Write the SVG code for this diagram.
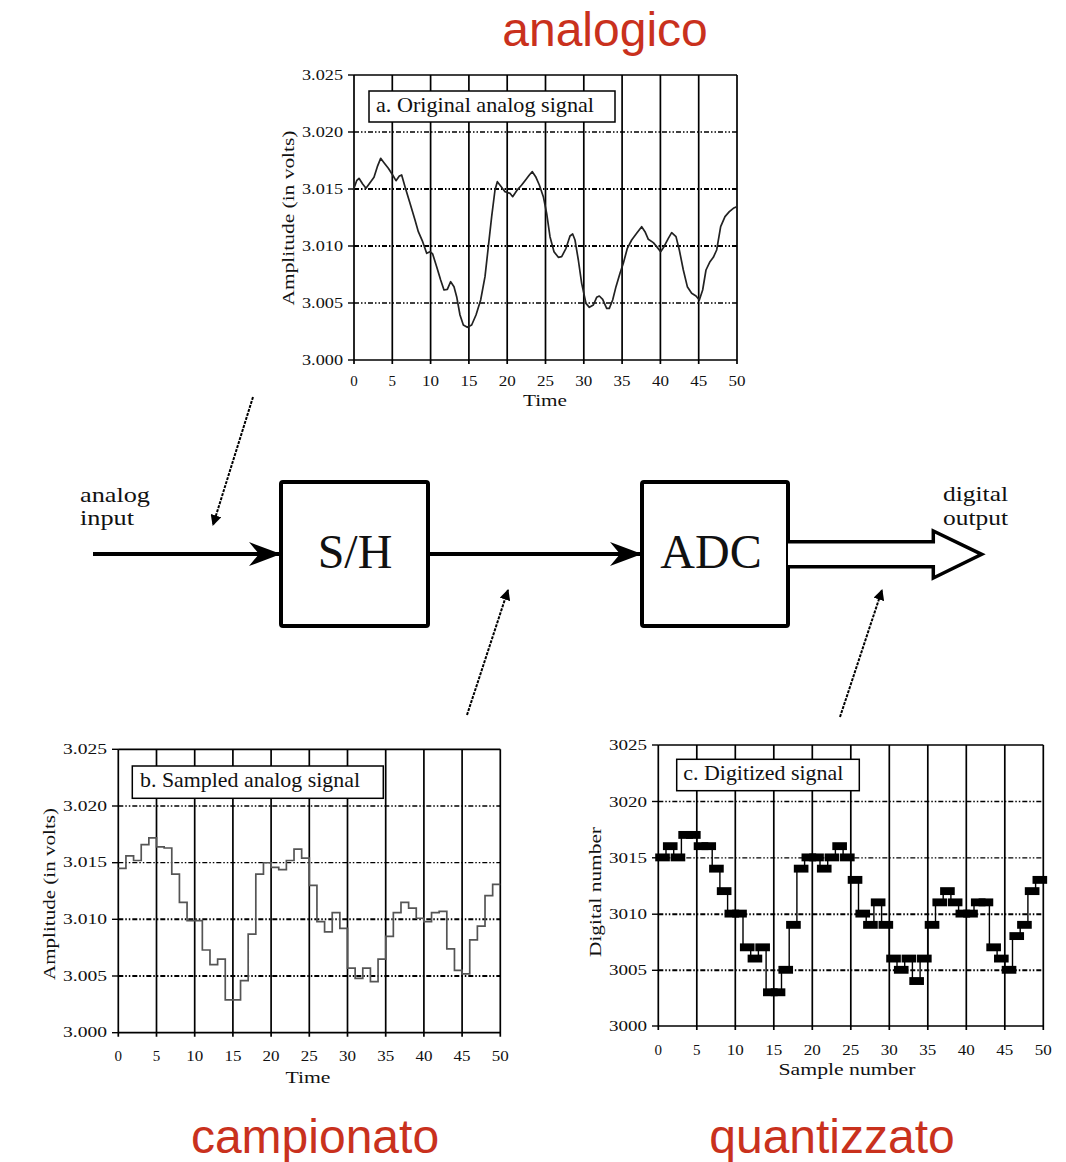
<svg xmlns="http://www.w3.org/2000/svg" width="1066" height="1162" viewBox="0 0 1066 1162">
<defs>
<style>
.vg{stroke:#000;stroke-width:1.7;fill:none}
.hg{stroke:#000;stroke-width:1.3;stroke-dasharray:5 2 1.5 2 1.5 2;fill:none}
.hgb{stroke:#000;stroke-width:2;stroke-dasharray:5 2 1.5 2 1.5 2;fill:none}
.tk{stroke:#000;stroke-width:1.4}
.yl{font-family:"Liberation Serif",serif;font-size:14px;fill:#111;text-anchor:end}
.xl{font-family:"Liberation Serif",serif;font-size:15px;fill:#111;text-anchor:middle}
.at{font-family:"Liberation Serif",serif;font-size:17px;fill:#111;text-anchor:middle}
.lg{font-family:"Liberation Serif",serif;font-size:21px;fill:#111}
.lgbox{fill:#fff;stroke:#000;stroke-width:1.5}
.red{font-family:"Liberation Sans",Arial,sans-serif;font-size:48px;fill:#c9311d;text-anchor:middle}
.bl{font-family:"Liberation Serif",serif;font-size:21px;fill:#111}
.bt{font-family:"Liberation Serif",serif;font-size:48px;fill:#111;text-anchor:middle}
.box{fill:#fff;stroke:#000;stroke-width:4}
.wire{stroke:#000;stroke-width:4;fill:none}
.dot{stroke:#000;stroke-width:2;stroke-dasharray:3 1.2;fill:none}
</style>
<marker id="barb" viewBox="0 0 32 24" refX="31" refY="12" markerWidth="32" markerHeight="24" markerUnits="userSpaceOnUse" orient="auto">
<path d="M0,0 L32,12 L0,24 L10,12 Z" fill="#000"/>
</marker>
<marker id="tri" viewBox="0 0 10 10" refX="9" refY="5" markerWidth="11" markerHeight="11" markerUnits="userSpaceOnUse" orient="auto">
<path d="M0,0 L10,5 L0,10 Z" fill="#000"/>
</marker>
</defs>
<rect width="1066" height="1162" fill="#fff"/>

<!-- red titles -->
<text class="red" x="605" y="46">analogico</text>
<text class="red" x="315" y="1153">campionato</text>
<text class="red" x="832" y="1153">quantizzato</text>

<!-- Chart a -->
<g id="chart-a">
<g class="vg">
<line x1="354" y1="75" x2="737" y2="75"/>
<line x1="354" y1="360" x2="737" y2="360"/>
<line x1="354" y1="75" x2="354" y2="364"/>
<line x1="392.3" y1="75" x2="392.3" y2="364"/>
<line x1="430.6" y1="75" x2="430.6" y2="364"/>
<line x1="468.9" y1="75" x2="468.9" y2="364"/>
<line x1="507.2" y1="75" x2="507.2" y2="364"/>
<line x1="545.5" y1="75" x2="545.5" y2="364"/>
<line x1="583.8" y1="75" x2="583.8" y2="364"/>
<line x1="622.1" y1="75" x2="622.1" y2="364"/>
<line x1="660.4" y1="75" x2="660.4" y2="364"/>
<line x1="698.7" y1="75" x2="698.7" y2="364"/>
<line x1="737" y1="75" x2="737" y2="364"/>
</g>
<line class="hg" x1="354" y1="132" x2="737" y2="132"/>
<line class="hgb" x1="354" y1="189" x2="737" y2="189"/>
<line class="hgb" x1="354" y1="246" x2="737" y2="246"/>
<line class="hg" x1="354" y1="303" x2="737" y2="303"/>
<g class="tk">
<line x1="348" y1="75" x2="354" y2="75"/><line x1="348" y1="132" x2="354" y2="132"/><line x1="348" y1="189" x2="354" y2="189"/><line x1="348" y1="246" x2="354" y2="246"/><line x1="348" y1="303" x2="354" y2="303"/><line x1="348" y1="360" x2="354" y2="360"/>
</g>
<rect class="lgbox" x="369" y="91" width="246" height="31"/>
<text class="lg" x="376" y="112" textLength="218" lengthAdjust="spacingAndGlyphs">a. Original analog signal</text>
<polyline transform="translate(290,60) scale(0.33333)" fill="none" stroke="#222" stroke-width="1.7" vector-effect="non-scaling-stroke" stroke-linejoin="round" points="190,390 200,362 207,355 218,372 228,385 240,368 252,352 262,320 272,295 282,308 295,325 308,345 318,362 328,348 335,345 345,380 360,430 375,480 385,515 398,545 410,580 420,575 428,582 440,620 452,660 462,690 472,688 482,665 492,680 500,710 510,765 520,795 532,802 545,795 558,765 572,720 585,650 595,560 605,470 615,390 622,365 632,378 645,395 660,400 668,410 680,392 695,375 705,362 718,345 727,335 737,350 748,375 760,410 770,460 780,530 792,575 805,592 815,590 828,565 840,528 848,522 855,540 865,600 875,670 888,730 898,742 910,735 920,712 928,708 938,718 950,745 958,745 968,720 978,680 990,640 1000,610 1012,565 1025,540 1040,520 1055,500 1065,515 1075,538 1090,548 1100,560 1112,575 1122,560 1135,535 1145,518 1158,530 1168,570 1180,630 1192,680 1205,700 1218,708 1228,720 1238,690 1248,630 1260,605 1270,592 1280,570 1292,500 1305,470 1318,455 1330,445 1340,440"/>
<g>
<text class="yl" x="343" y="80" textLength="41" lengthAdjust="spacingAndGlyphs">3.025</text>
<text class="yl" x="343" y="137" textLength="41" lengthAdjust="spacingAndGlyphs">3.020</text>
<text class="yl" x="343" y="194" textLength="41" lengthAdjust="spacingAndGlyphs">3.015</text>
<text class="yl" x="343" y="251" textLength="41" lengthAdjust="spacingAndGlyphs">3.010</text>
<text class="yl" x="343" y="308" textLength="41" lengthAdjust="spacingAndGlyphs">3.005</text>
<text class="yl" x="343" y="365" textLength="41" lengthAdjust="spacingAndGlyphs">3.000</text>
</g>
<g>
<text class="xl" x="354" y="386">0</text>
<text class="xl" x="392.3" y="386">5</text>
<text class="xl" x="430.6" y="386" textLength="17" lengthAdjust="spacingAndGlyphs">10</text>
<text class="xl" x="468.9" y="386" textLength="17" lengthAdjust="spacingAndGlyphs">15</text>
<text class="xl" x="507.2" y="386" textLength="17" lengthAdjust="spacingAndGlyphs">20</text>
<text class="xl" x="545.5" y="386" textLength="17" lengthAdjust="spacingAndGlyphs">25</text>
<text class="xl" x="583.8" y="386" textLength="17" lengthAdjust="spacingAndGlyphs">30</text>
<text class="xl" x="622.1" y="386" textLength="17" lengthAdjust="spacingAndGlyphs">35</text>
<text class="xl" x="660.4" y="386" textLength="17" lengthAdjust="spacingAndGlyphs">40</text>
<text class="xl" x="698.7" y="386" textLength="17" lengthAdjust="spacingAndGlyphs">45</text>
<text class="xl" x="737" y="386" textLength="17" lengthAdjust="spacingAndGlyphs">50</text>
</g>
<text class="at" x="545" y="406" textLength="44" lengthAdjust="spacingAndGlyphs">Time</text>
<text class="at" transform="translate(294,218) rotate(-90)" x="0" y="0" font-size="16" fill="#333" textLength="175" lengthAdjust="spacingAndGlyphs">Amplitude (in volts)</text>
</g>

<!-- Chart b -->
<g id="chart-b">
<g class="vg">
<line x1="118.3" y1="749.3" x2="500.3" y2="749.3"/>
<line x1="118.3" y1="1032.7" x2="500.3" y2="1032.7"/>
<line x1="118.3" y1="749.3" x2="118.3" y2="1036.7"/>
<line x1="156.5" y1="749.3" x2="156.5" y2="1036.7"/>
<line x1="194.7" y1="749.3" x2="194.7" y2="1036.7"/>
<line x1="232.9" y1="749.3" x2="232.9" y2="1036.7"/>
<line x1="271.1" y1="749.3" x2="271.1" y2="1036.7"/>
<line x1="309.3" y1="749.3" x2="309.3" y2="1036.7"/>
<line x1="347.5" y1="749.3" x2="347.5" y2="1036.7"/>
<line x1="385.7" y1="749.3" x2="385.7" y2="1036.7"/>
<line x1="423.9" y1="749.3" x2="423.9" y2="1036.7"/>
<line x1="462.1" y1="749.3" x2="462.1" y2="1036.7"/>
<line x1="500.3" y1="749.3" x2="500.3" y2="1036.7"/>
</g>
<line class="hg" x1="118.3" y1="806" x2="500.3" y2="806"/>
<line class="hg" x1="118.3" y1="862.7" x2="500.3" y2="862.7"/>
<line class="hgb" x1="118.3" y1="919.3" x2="500.3" y2="919.3"/>
<line class="hgb" x1="118.3" y1="976" x2="500.3" y2="976"/>
<g class="tk">
<line x1="112" y1="749.3" x2="118.3" y2="749.3"/><line x1="112" y1="806" x2="118.3" y2="806"/><line x1="112" y1="862.7" x2="118.3" y2="862.7"/><line x1="112" y1="919.3" x2="118.3" y2="919.3"/><line x1="112" y1="976" x2="118.3" y2="976"/><line x1="112" y1="1032.7" x2="118.3" y2="1032.7"/>
</g>
<rect class="lgbox" x="132.3" y="766" width="251" height="32.3"/>
<text class="lg" x="140" y="787" textLength="220" lengthAdjust="spacingAndGlyphs">b. Sampled analog signal</text>
<polyline transform="translate(118.3,1032.7) scale(7.64,-11.33)" fill="none" stroke="#555" stroke-width="1.7" vector-effect="non-scaling-stroke" points="0,14.5 1,14.5 1,15.6 2,15.6 2,15.2 3,15.2 3,16.6 4,16.6 4,17.2 5,17.2 5,16.4 6,16.4 6,16.3 7,16.3 7,14.0 8,14.0 8,11.5 9,11.5 9,9.9 11,9.9 11,7.3 12,7.3 12,6.0 13,6.0 13,6.5 14,6.5 14,2.9 16,2.9 16,4.6 17,4.6 17,8.7 18,8.7 18,14.0 19,14.0 19,15.0 20,15.0 20,14.6 21,14.6 21,14.4 22,14.4 22,15.2 23,15.2 23,16.2 24,16.2 24,15.4 25,15.4 25,13.0 26,13.0 26,9.8 27,9.8 27,8.9 28,8.9 28,10.6 29,10.6 29,9.2 30,9.2 30,5.7 31,5.7 31,4.8 32,4.8 32,5.7 33,5.7 33,4.5 34,4.5 34,6.5 35,6.5 35,8.5 36,8.5 36,10.6 37,10.6 37,11.5 38,11.5 38,11.0 39,11.0 39,10.1 40,10.1 40,9.8 41,9.8 41,10.6 42,10.6 42,10.7 43,10.7 43,7.4 44,7.4 44,5.5 45,5.5 45,5.2 46,5.2 46,8.2 47,8.2 47,9.4 48,9.4 48,12.1 49,12.1 49,13.1 50,13.1"/>
<g>
<text class="yl" x="107" y="754" textLength="44" lengthAdjust="spacingAndGlyphs">3.025</text>
<text class="yl" x="107" y="810.7" textLength="44" lengthAdjust="spacingAndGlyphs">3.020</text>
<text class="yl" x="107" y="867.4" textLength="44" lengthAdjust="spacingAndGlyphs">3.015</text>
<text class="yl" x="107" y="924" textLength="44" lengthAdjust="spacingAndGlyphs">3.010</text>
<text class="yl" x="107" y="980.7" textLength="44" lengthAdjust="spacingAndGlyphs">3.005</text>
<text class="yl" x="107" y="1037.4" textLength="44" lengthAdjust="spacingAndGlyphs">3.000</text>
</g>
<g>
<text class="xl" x="118.3" y="1061">0</text>
<text class="xl" x="156.5" y="1061">5</text>
<text class="xl" x="194.7" y="1061" textLength="17" lengthAdjust="spacingAndGlyphs">10</text>
<text class="xl" x="232.9" y="1061" textLength="17" lengthAdjust="spacingAndGlyphs">15</text>
<text class="xl" x="271.1" y="1061" textLength="17" lengthAdjust="spacingAndGlyphs">20</text>
<text class="xl" x="309.3" y="1061" textLength="17" lengthAdjust="spacingAndGlyphs">25</text>
<text class="xl" x="347.5" y="1061" textLength="17" lengthAdjust="spacingAndGlyphs">30</text>
<text class="xl" x="385.7" y="1061" textLength="17" lengthAdjust="spacingAndGlyphs">35</text>
<text class="xl" x="423.9" y="1061" textLength="17" lengthAdjust="spacingAndGlyphs">40</text>
<text class="xl" x="462.1" y="1061" textLength="17" lengthAdjust="spacingAndGlyphs">45</text>
<text class="xl" x="500.3" y="1061" textLength="17" lengthAdjust="spacingAndGlyphs">50</text>
</g>
<text class="at" x="308" y="1083" textLength="45" lengthAdjust="spacingAndGlyphs">Time</text>
<text class="at" transform="translate(55,894) rotate(-90)" x="0" y="0" font-size="16" textLength="172" lengthAdjust="spacingAndGlyphs">Amplitude (in volts)</text>
</g>

<!-- Chart c -->
<g id="chart-c">
<g class="vg">
<line x1="658.3" y1="745" x2="1043.3" y2="745"/>
<line x1="658.3" y1="1026" x2="1043.3" y2="1026"/>
<line x1="658.3" y1="745" x2="658.3" y2="1030"/>
<line x1="696.8" y1="745" x2="696.8" y2="1030"/>
<line x1="735.3" y1="745" x2="735.3" y2="1030"/>
<line x1="773.8" y1="745" x2="773.8" y2="1030"/>
<line x1="812.3" y1="745" x2="812.3" y2="1030"/>
<line x1="850.8" y1="745" x2="850.8" y2="1030"/>
<line x1="889.3" y1="745" x2="889.3" y2="1030"/>
<line x1="927.8" y1="745" x2="927.8" y2="1030"/>
<line x1="966.3" y1="745" x2="966.3" y2="1030"/>
<line x1="1004.8" y1="745" x2="1004.8" y2="1030"/>
<line x1="1043.3" y1="745" x2="1043.3" y2="1030"/>
</g>
<line class="hg" x1="658.3" y1="801.5" x2="1043.3" y2="801.5"/>
<line class="hg" x1="658.3" y1="857.8" x2="1043.3" y2="857.8"/>
<line class="hgb" x1="658.3" y1="914.2" x2="1043.3" y2="914.2"/>
<line class="hgb" x1="658.3" y1="970.3" x2="1043.3" y2="970.3"/>
<g class="tk">
<line x1="652" y1="745" x2="658.3" y2="745"/><line x1="652" y1="801.5" x2="658.3" y2="801.5"/><line x1="652" y1="857.8" x2="658.3" y2="857.8"/><line x1="652" y1="914.2" x2="658.3" y2="914.2"/><line x1="652" y1="970.3" x2="658.3" y2="970.3"/><line x1="652" y1="1026" x2="658.3" y2="1026"/>
</g>
<rect class="lgbox" x="676.7" y="759.3" width="182.6" height="31.4"/>
<text class="lg" x="683.3" y="780" textLength="160" lengthAdjust="spacingAndGlyphs">c. Digitized signal</text>
<g transform="translate(658.3,1026) scale(7.7,-11.24)">
<polyline fill="none" stroke="#000" stroke-width="1.4" vector-effect="non-scaling-stroke" points="0,15 1,15 1,16 2,16 2,15 3,15 3,17 5,17 5,16 7,16 7,14 8,14 8,12 9,12 9,10 11,10 11,7 12,7 12,6 13,6 13,7 14,7 14,3 16,3 16,5 17,5 17,9 18,9 18,14 19,14 19,15 21,15 21,14 22,14 22,15 23,15 23,16 24,16 24,15 25,15 25,13 26,13 26,10 27,10 27,9 28,9 28,11 29,11 29,9 30,9 30,6 31,6 31,5 32,5 32,6 33,6 33,4 34,4 34,6 35,6 35,9 36,9 36,11 37,11 37,12 38,12 38,11 39,11 39,10 41,10 41,11 43,11 43,7 44,7 44,6 45,6 45,5 46,5 46,8 47,8 47,9 48,9 48,12 49,12 49,13 50,13"/>
<g fill="#000">
<rect x="-0.4" y="14.65" width="1.9" height="0.7"/>
<rect x="0.6" y="15.65" width="1.9" height="0.7"/>
<rect x="1.6" y="14.65" width="1.9" height="0.7"/>
<rect x="2.6" y="16.65" width="1.9" height="0.7"/>
<rect x="3.6" y="16.65" width="1.9" height="0.7"/>
<rect x="4.6" y="15.65" width="1.9" height="0.7"/>
<rect x="5.6" y="15.65" width="1.9" height="0.7"/>
<rect x="6.6" y="13.65" width="1.9" height="0.7"/>
<rect x="7.6" y="11.65" width="1.9" height="0.7"/>
<rect x="8.6" y="9.65" width="1.9" height="0.7"/>
<rect x="9.6" y="9.65" width="1.9" height="0.7"/>
<rect x="10.6" y="6.65" width="1.9" height="0.7"/>
<rect x="11.6" y="5.65" width="1.9" height="0.7"/>
<rect x="12.6" y="6.65" width="1.9" height="0.7"/>
<rect x="13.6" y="2.65" width="1.9" height="0.7"/>
<rect x="14.6" y="2.65" width="1.9" height="0.7"/>
<rect x="15.6" y="4.65" width="1.9" height="0.7"/>
<rect x="16.6" y="8.65" width="1.9" height="0.7"/>
<rect x="17.6" y="13.65" width="1.9" height="0.7"/>
<rect x="18.6" y="14.65" width="1.9" height="0.7"/>
<rect x="19.6" y="14.65" width="1.9" height="0.7"/>
<rect x="20.6" y="13.65" width="1.9" height="0.7"/>
<rect x="21.6" y="14.65" width="1.9" height="0.7"/>
<rect x="22.6" y="15.65" width="1.9" height="0.7"/>
<rect x="23.6" y="14.65" width="1.9" height="0.7"/>
<rect x="24.6" y="12.65" width="1.9" height="0.7"/>
<rect x="25.6" y="9.65" width="1.9" height="0.7"/>
<rect x="26.6" y="8.65" width="1.9" height="0.7"/>
<rect x="27.6" y="10.65" width="1.9" height="0.7"/>
<rect x="28.6" y="8.65" width="1.9" height="0.7"/>
<rect x="29.6" y="5.65" width="1.9" height="0.7"/>
<rect x="30.6" y="4.65" width="1.9" height="0.7"/>
<rect x="31.6" y="5.65" width="1.9" height="0.7"/>
<rect x="32.6" y="3.65" width="1.9" height="0.7"/>
<rect x="33.6" y="5.65" width="1.9" height="0.7"/>
<rect x="34.6" y="8.65" width="1.9" height="0.7"/>
<rect x="35.6" y="10.65" width="1.9" height="0.7"/>
<rect x="36.6" y="11.65" width="1.9" height="0.7"/>
<rect x="37.6" y="10.65" width="1.9" height="0.7"/>
<rect x="38.6" y="9.65" width="1.9" height="0.7"/>
<rect x="39.6" y="9.65" width="1.9" height="0.7"/>
<rect x="40.6" y="10.65" width="1.9" height="0.7"/>
<rect x="41.6" y="10.65" width="1.9" height="0.7"/>
<rect x="42.6" y="6.65" width="1.9" height="0.7"/>
<rect x="43.6" y="5.65" width="1.9" height="0.7"/>
<rect x="44.6" y="4.65" width="1.9" height="0.7"/>
<rect x="45.6" y="7.65" width="1.9" height="0.7"/>
<rect x="46.6" y="8.65" width="1.9" height="0.7"/>
<rect x="47.6" y="11.65" width="1.9" height="0.7"/>
<rect x="48.6" y="12.65" width="1.9" height="0.7"/>
</g>
</g>
<g>
<text class="yl" x="647" y="750" textLength="38" lengthAdjust="spacingAndGlyphs">3025</text>
<text class="yl" x="647" y="806.5" textLength="38" lengthAdjust="spacingAndGlyphs">3020</text>
<text class="yl" x="647" y="862.8" textLength="38" lengthAdjust="spacingAndGlyphs">3015</text>
<text class="yl" x="647" y="919.2" textLength="38" lengthAdjust="spacingAndGlyphs">3010</text>
<text class="yl" x="647" y="975.3" textLength="38" lengthAdjust="spacingAndGlyphs">3005</text>
<text class="yl" x="647" y="1031" textLength="38" lengthAdjust="spacingAndGlyphs">3000</text>
</g>
<g>
<text class="xl" x="658.3" y="1055">0</text>
<text class="xl" x="696.8" y="1055">5</text>
<text class="xl" x="735.3" y="1055" textLength="17" lengthAdjust="spacingAndGlyphs">10</text>
<text class="xl" x="773.8" y="1055" textLength="17" lengthAdjust="spacingAndGlyphs">15</text>
<text class="xl" x="812.3" y="1055" textLength="17" lengthAdjust="spacingAndGlyphs">20</text>
<text class="xl" x="850.8" y="1055" textLength="17" lengthAdjust="spacingAndGlyphs">25</text>
<text class="xl" x="889.3" y="1055" textLength="17" lengthAdjust="spacingAndGlyphs">30</text>
<text class="xl" x="927.8" y="1055" textLength="17" lengthAdjust="spacingAndGlyphs">35</text>
<text class="xl" x="966.3" y="1055" textLength="17" lengthAdjust="spacingAndGlyphs">40</text>
<text class="xl" x="1004.8" y="1055" textLength="17" lengthAdjust="spacingAndGlyphs">45</text>
<text class="xl" x="1043.3" y="1055" textLength="17" lengthAdjust="spacingAndGlyphs">50</text>
</g>
<text class="at" x="847" y="1075" textLength="137" lengthAdjust="spacingAndGlyphs">Sample number</text>
<text class="at" transform="translate(601,892) rotate(-90)" x="0" y="0" font-size="16" textLength="130" lengthAdjust="spacingAndGlyphs">Digital number</text>
</g>

<!-- Block diagram nodes -->
<g id="node-sh">
<rect class="box" x="281" y="482" width="147" height="144" rx="2"/>
<text class="bt" x="355" y="568">S/H</text>
</g>
<g id="node-adc">
<rect class="box" x="642" y="482" width="146" height="144" rx="2"/>
<text class="bt" x="711" y="568">ADC</text>
</g>
<g id="label-input">
<text class="bl" x="80" y="502" textLength="70" lengthAdjust="spacingAndGlyphs">analog</text>
<text class="bl" x="80" y="525" textLength="54" lengthAdjust="spacingAndGlyphs">input</text>
</g>
<g id="label-output">
<text class="bl" x="943" y="501" textLength="65" lengthAdjust="spacingAndGlyphs">digital</text>
<text class="bl" x="943" y="525" textLength="65" lengthAdjust="spacingAndGlyphs">output</text>
</g>

<!-- Connectors -->
<g id="connectors">
<line class="wire" x1="93" y1="554" x2="280" y2="554" marker-end="url(#barb)"/>
<line class="wire" x1="428" y1="554" x2="641" y2="554" marker-end="url(#barb)"/>
<path d="M788,541.7 H933.3 V531 L981.7,554.3 L933.3,578 V566.7 H788" fill="#fff" stroke="#000" stroke-width="3.5" stroke-linejoin="miter"/>
<line class="dot" x1="253" y1="397" x2="213" y2="525" marker-end="url(#tri)"/>
<line class="dot" x1="467" y1="715" x2="508" y2="590" marker-end="url(#tri)"/>
<line class="dot" x1="840" y1="717" x2="882" y2="590" marker-end="url(#tri)"/>
</g>
</svg>
